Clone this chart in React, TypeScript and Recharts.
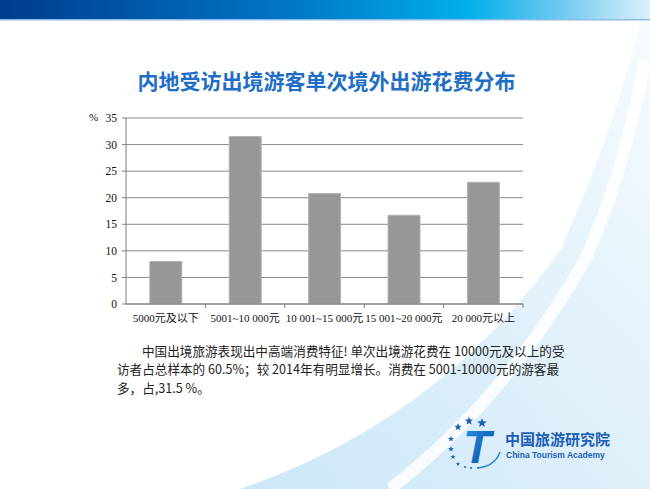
import { BarChart, Bar, XAxis, YAxis, CartesianGrid } from "recharts";

// spending bands (yuan) and share of respondents (%)
const categories = [
  "5000元及以下",
  "5001~10 000元",
  "10 001~15 000元",
  "15 001~20 000元",
  "20 000元以上",
];
const shares = [8, 31.5, 20.8, 16.7, 22.9];
const yTicks = [0, 5, 10, 15, 20, 25, 30, 35];

const title = "内地受访出境游客单次境外出游花费分布";
const noteLines = [
  "中国出境旅游表现出中高端消费特征! 单次出境游花费在 10000元及以上的受",
  "访者占总样本的 60.5%；较 2014年有明显增长。消费在 5001-10000元的游客最",
  "多，占,31.5 %。",
];

const data = categories.map((name, i) => ({ name, value: shares[i] }));

const serif = "'Liberation Serif', 'Times New Roman', 'Noto Sans CJK SC', serif";
const cjk = "'Noto Sans CJK SC', 'Microsoft YaHei', sans-serif";

function CategoryTick(props: any) {
  const { x, y, payload } = props;
  const half = payload.offset || 0;
  return (
    <g>
      <line x1={x + half} x2={x + half} y1={y} y2={y + 4} stroke="#7f7f7f" />
      <text
        x={x}
        y={y + 18}
        textAnchor="middle"
        style={{ fontSize: 11, fontFamily: serif }}
        fill="#111"
      >
        {payload.value}
      </text>
    </g>
  );
}

function Backdrop() {
  return (
    <svg width={650} height={489} style={{ position: "absolute", left: 0, top: 0 }}>
      <defs>
        <linearGradient id="hdr" x1="0" x2="1" y1="0" y2="0">
          <stop offset="0" stopColor="#003b8e" />
          <stop offset="0.45" stopColor="#0077c6" />
          <stop offset="0.72" stopColor="#00afea" />
          <stop offset="0.86" stopColor="#6cc9f0" />
          <stop offset="1" stopColor="#dcf0fa" />
        </linearGradient>
        <linearGradient id="swoosh" x1="0" x2="1" y1="1" y2="0">
          <stop offset="0" stopColor="#cbe6f7" />
          <stop offset="0.6" stopColor="#e4f2fb" />
          <stop offset="1" stopColor="#f6fbfe" />
        </linearGradient>
        <linearGradient id="tfill" x1="0" x2="1" y1="0" y2="1">
          <stop offset="0" stopColor="#2a9be6" />
          <stop offset="1" stopColor="#0a3f9e" />
        </linearGradient>
      </defs>
      <rect x={0} y={0} width={650} height={19} fill="url(#hdr)" />
      <rect x={0} y={19} width={650} height={1.5} fill="#8dbbe6" />
      <path d="M 240 489 Q 440 420 560 250 Q 615 130 640 22 L 650 22 L 650 489 Z" fill="url(#swoosh)" />
      <path d="M 390 489 Q 505 400 585 260 Q 625 170 645 60" fill="none" stroke="#ffffff" strokeWidth={12} opacity={0.85} />
      <path d="M 600 22 Q 585 150 560 250" fill="none" stroke="#ffffff" strokeWidth={4} opacity={0.7} />
      {/* logo */}
      <g fill="#1b5fb8">
        {[
          [482, 423, 5],
          [469, 421, 4.5],
          [458, 427, 4],
          [451, 439, 3.2],
          [451, 449, 3],
          [453, 457, 2.6],
          [458, 464, 2.2],
        ].map(([cx, cy, r], i) => {
          const pts = Array.from({ length: 10 }, (_, k) => {
            const a = -Math.PI / 2 + (k * Math.PI) / 5;
            const rr = k % 2 === 0 ? r : r * 0.42;
            return `${cx + rr * Math.cos(a)},${cy + rr * Math.sin(a)}`;
          }).join(" ");
          return <polygon key={i} points={pts} />;
        })}
        <circle cx={465} cy={467} r={1} />
        <circle cx={471} cy={468} r={1} />
        <circle cx={478} cy={468} r={1} />
      </g>
      <text
        x={463}
        y={463}
        fontSize={46}
        fontWeight={700}
        fontStyle="italic"
        fontFamily="'Liberation Sans', Arial, sans-serif"
        fill="url(#tfill)"
      >
        T
      </text>
      <path d="M 478 468 Q 495 466 500 452" fill="none" stroke="#2a8ad8" strokeWidth={1.5} />
      <text x={505} y={445} fontSize={15} fontWeight={700} fontFamily={cjk} fill="#1b5fb8">
        中国旅游研究院
      </text>
      <text x={506} y={457.5} fontSize={8.5} fontWeight={700} fontFamily="'Liberation Sans', Arial, sans-serif" fill="#1b5fb8">
        China Tourism Academy
      </text>
    </svg>
  );
}

export default function App() {
  return (
    <div
      style={{
        position: "fixed",
        left: 0,
        top: 0,
        width: 650,
        height: 489,
        overflow: "hidden",
        background: "#ffffff",
      }}
    >
      <Backdrop />

      <div
        style={{
          position: "absolute",
          left: 0,
          top: 66,
          width: 653,
          textAlign: "center",
          fontFamily: cjk,
          fontWeight: 700,
          fontSize: 21,
          color: "#1f6ec6",
          lineHeight: "28px",
        }}
      >
        {title}
      </div>

      <span
        style={{
          position: "absolute",
          left: 89,
          top: 111,
          fontFamily: serif,
          fontSize: 11,
          color: "#111",
        }}
      >
        %
      </span>

      <div style={{ position: "absolute", left: 60, top: 100 }}>
        <BarChart
          width={480}
          height={240}
          data={data}
          margin={{ top: 18, right: 17, left: 0, bottom: 6 }}
          barCategoryGap="30%"
        >
          <CartesianGrid vertical={false} stroke="#8a8a8a" strokeWidth={1} />
          <XAxis
            dataKey="name"
            interval={0}
            height={30}
            axisLine={{ stroke: "#7f7f7f" }}
            tickLine={false}
            tickSize={0}
            tickMargin={0}
            tick={<CategoryTick />}
          />
          <YAxis
            width={66}
            domain={[0, 35]}
            ticks={yTicks}
            interval={0}
            axisLine={{ stroke: "#7f7f7f" }}
            tickLine={{ stroke: "#7f7f7f" }}
            tickSize={4}
            tickMargin={5}
            tick={{ fontSize: 11.5, fontFamily: serif, fill: "#111" }}
          />
          <Bar
            dataKey="value"
            fill="#979797"
            stroke="#b4b4b4"
            strokeWidth={1}
            isAnimationActive={false}
          />
        </BarChart>
      </div>

      {noteLines.map((line, i) => (
        <div
          key={i}
          style={{
            position: "absolute",
            left: i === 0 ? 142 : 117,
            top: [342.5, 361, 380][i],
            fontFamily: cjk,
            fontSize: 12.6,
            lineHeight: "15px",
            color: "#222",
            whiteSpace: "nowrap",
          }}
        >
          {line}
        </div>
      ))}
    </div>
  );
}
